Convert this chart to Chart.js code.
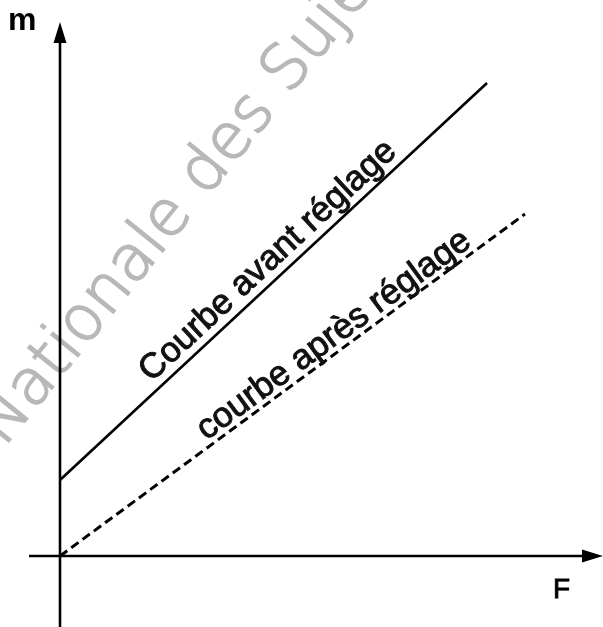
<!DOCTYPE html>
<html>
<head>
<meta charset="utf-8">
<script src="https://cdn.jsdelivr.net/npm/chart.js@4.4.0/dist/chart.umd.min.js"></script>
<style>
  html, body { margin: 0; padding: 0; background: #fff; }
  canvas { display: block; }
</style>
</head>
<body>
<canvas id="graph" width="603" height="627"></canvas>
<script>
// m en fonction de F, unités arbitraires (pas de graduations sur le document)
const curveNames = ['Courbe avant réglage', 'courbe après réglage'];
const avantF = [0, 8.54];
const avantM = [1.52, 9.46];
const apresF = [0, 9.3];
const apresM = [0, 6.84];
const labelStartF = [1.95, 3.0];
const axisNames = ['F', 'm'];
const axisF = [-0.62, 10.86];
const axisM = [-1.42, 10.68];
const watermark = 'Banque Nationale des Sujets';

const toPoints = (xs, ys) => xs.map((x, i) => ({ x: x, y: ys[i] }));

const drawing = {
  id: 'drawing',
  beforeDatasetsDraw(chart) {
    const ctx = chart.ctx;
    const xs = chart.scales.x, ys = chart.scales.y;

    // filigrane gris
    ctx.save();
    const size = 63;
    ctx.font = '200 ' + size + 'px "DejaVu Sans"';
    ctx.fillStyle = '#b8b8b8';
    ctx.strokeStyle = '#b8b8b8';
    ctx.lineWidth = 1.8;
    const a = -51 * Math.PI / 180;
    const pre = ctx.measureText('Banque Nationale des ').width;
    const ws = ctx.measureText('S').width;
    const cx = pre + ws / 2, cy = -size * 0.36;
    const ox = 284 - (cx * Math.cos(a) - cy * Math.sin(a));
    const oy = 66 - (cx * Math.sin(a) + cy * Math.cos(a));
    ctx.translate(ox, oy);
    ctx.rotate(a);
    ctx.fillText(watermark, 0, 0);
    ctx.strokeText(watermark, 0, 0);
    ctx.restore();

    // axes + flèches
    const x0 = xs.getPixelForValue(0), y0 = ys.getPixelForValue(0);
    const xl = xs.getPixelForValue(axisF[0]), xr = xs.getPixelForValue(axisF[1]);
    const yb = ys.getPixelForValue(axisM[0]), yt = ys.getPixelForValue(axisM[1]);
    ctx.save();
    ctx.strokeStyle = '#000';
    ctx.fillStyle = '#000';
    ctx.lineWidth = 2.6;
    ctx.beginPath();
    ctx.moveTo(xl, y0); ctx.lineTo(xr - 15, y0);
    ctx.moveTo(x0, yb); ctx.lineTo(x0, yt + 15);
    ctx.stroke();
    ctx.beginPath();
    ctx.moveTo(x0, yt); ctx.lineTo(x0 - 6.5, yt + 21); ctx.lineTo(x0 + 6.5, yt + 21); ctx.closePath();
    ctx.moveTo(xr, y0); ctx.lineTo(xr - 21, y0 - 6.5); ctx.lineTo(xr - 21, y0 + 6.5); ctx.closePath();
    ctx.fill();

    ctx.textBaseline = 'alphabetic';
    ctx.font = 'bold 32px "Liberation Sans"';
    ctx.fillText(axisNames[1], x0 - 52, yt + 8);
    ctx.font = '28px "Liberation Sans"';
    ctx.lineWidth = 0.9;
    ctx.fillText(axisNames[0], xr - 50, y0 + 42);
    ctx.strokeText(axisNames[0], xr - 50, y0 + 42);
    ctx.restore();
  },
  afterDatasetsDraw(chart) {
    const ctx = chart.ctx;
    const xs = chart.scales.x;
    const offsets = [9, 6];
    ctx.save();
    ctx.font = '35px "Liberation Sans"';
    ctx.fillStyle = '#111';
    ctx.strokeStyle = '#111';
    ctx.lineWidth = 1;
    ctx.textBaseline = 'alphabetic';
    curveNames.forEach((name, i) => {
      const pts = chart.getDatasetMeta(i).data;
      const p0 = pts[0], p1 = pts[1];
      const ang = Math.atan2(p1.y - p0.y, p1.x - p0.x);
      const px = xs.getPixelForValue(labelStartF[i]);
      const t = (px - p0.x) / (p1.x - p0.x);
      const py = p0.y + t * (p1.y - p0.y);
      ctx.save();
      ctx.translate(px, py);
      ctx.rotate(ang);
      ctx.fillText(name, 0, -offsets[i]);
      ctx.strokeText(name, 0, -offsets[i]);
      ctx.restore();
    });
    ctx.restore();
  }
};

new Chart(document.getElementById('graph'), {
  type: 'scatter',
  data: {
    datasets: [
      {
        label: curveNames[0],
        data: toPoints(avantF, avantM),
        showLine: true,
        borderColor: '#000',
        borderWidth: 2.6,
        pointRadius: 0
      },
      {
        label: curveNames[1],
        data: toPoints(apresF, apresM),
        showLine: true,
        borderColor: '#000',
        borderWidth: 3,
        borderDash: [9, 5],
        pointRadius: 0
      }
    ]
  },
  options: {
    responsive: false,
    animation: false,
    devicePixelRatio: 1,
    layout: { padding: 0 },
    plugins: { legend: { display: false }, tooltip: { enabled: false } },
    scales: {
      x: { type: 'linear', min: -1.2, max: 10.86, display: false },
      y: { type: 'linear', min: -1.42, max: 11.12, display: false }
    }
  },
  plugins: [drawing]
});
</script>
</body>
</html>
